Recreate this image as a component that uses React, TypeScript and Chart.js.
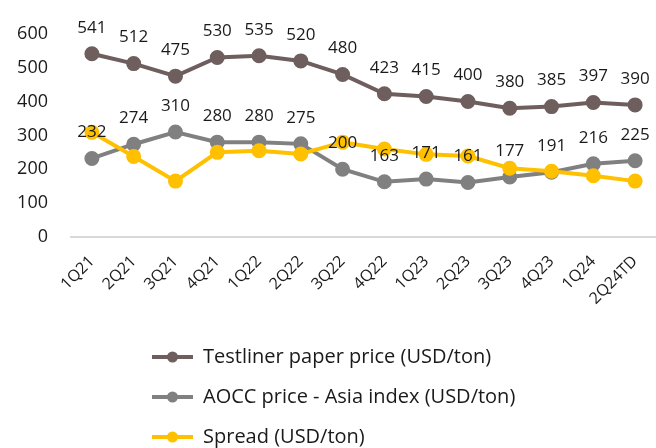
import React, { useEffect, useRef } from "react";
import { Chart, registerables } from "chart.js";

Chart.register(...registerables);

const categories = ["1Q21", "2Q21", "3Q21", "4Q21", "1Q22", "2Q22", "3Q22", "4Q22", "1Q23", "2Q23", "3Q23", "4Q23", "1Q24", "2Q24TD"];
const testlinerPrice = [541, 512, 475, 530, 535, 520, 480, 423, 415, 400, 380, 385, 397, 390];
const aoccPrice = [232, 274, 310, 280, 280, 275, 200, 163, 171, 161, 177, 191, 216, 225];
const spread = [309, 238, 165, 250, 255, 245, 280, 260, 244, 239, 203, 194, 181, 165];
const yTicks = [0, 100, 200, 300, 400, 500, 600];
const seriesNames = ["Testliner paper price (USD/ton)", "AOCC price - Asia index (USD/ton)", "Spread (USD/ton)"];
const seriesColors = ["#6e5e5d", "#808080", "#ffc000"];
const labelledSeries = [0, 1];

const FONT = "'Open Sans', sans-serif";

const labelPlugin = {
  id: "pointLabels",
  afterDatasetsDraw(chart: any) {
    const ctx = chart.ctx;
    ctx.save();
    ctx.font = `17px ${FONT}`;
    ctx.fillStyle = "#1a1a1a";
    ctx.textAlign = "center";
    ctx.textBaseline = "middle";
    labelledSeries.forEach((di) => {
      const meta = chart.getDatasetMeta(di);
      const data = chart.data.datasets[di].data;
      meta.data.forEach((pt: any, i: number) => {
        ctx.fillText(String(data[i]), pt.x, pt.y - 26);
      });
    });
    ctx.restore();
  },
};

const legendPlugin = {
  id: "customLegend",
  afterDraw(chart: any) {
    const ctx = chart.ctx;
    ctx.save();
    const ys = [357, 397, 437];
    seriesNames.forEach((name, i) => {
      const y = ys[i];
      ctx.strokeStyle = seriesColors[i];
      ctx.lineWidth = 4;
      ctx.beginPath();
      ctx.moveTo(152, y);
      ctx.lineTo(193, y);
      ctx.stroke();
      ctx.fillStyle = seriesColors[i];
      ctx.beginPath();
      ctx.arc(172.5, y, 5.5, 0, Math.PI * 2);
      ctx.fill();
      ctx.font = `20px ${FONT}`;
      ctx.fillStyle = "#1a1a1a";
      ctx.textAlign = "left";
      ctx.textBaseline = "middle";
      ctx.fillText(name, 203, y);
    });
    ctx.restore();
  },
};

export default function App() {
  const ref = useRef<HTMLCanvasElement | null>(null);
  useEffect(() => {
    if (!ref.current) return;
    const values = [testlinerPrice, aoccPrice, spread];
    const chart = new Chart(ref.current, {
      type: "line",
      data: {
        labels: categories,
        datasets: values.map((d, i) => ({
          label: seriesNames[i],
          data: d,
          borderColor: seriesColors[i],
          backgroundColor: seriesColors[i],
          pointBackgroundColor: seriesColors[i],
          pointBorderColor: seriesColors[i],
          borderWidth: 4,
          pointRadius: 5.5,
          pointHoverRadius: 5.5,
          tension: 0,
          clip: false,
          order: 3 - i,
        })),
      },
      options: {
        animation: false,
        responsive: false,
        maintainAspectRatio: false,
        layout: { autoPadding: false, padding: { top: 32, bottom: 111, left: 0, right: 0 } },
        plugins: {
          legend: { display: false },
          tooltip: { enabled: false },
        },
        scales: {
          x: {
            offset: true,
            grid: { display: false, drawTicks: false },
            border: { display: true, color: "#d9d9d9", width: 2 },
            ticks: {
              minRotation: 45,
              maxRotation: 45,
              autoSkip: false,
              padding: 15,
              color: "#1a1a1a",
              font: { family: FONT, size: 16 },
            },
            afterFit(scale: any) {
              scale.height = 100;
              scale.paddingRight = 0;
              scale.paddingLeft = 0;
            },
          },
          y: {
            min: 0,
            max: 600,
            afterBuildTicks(scale: any) {
              scale.ticks = yTicks.map((v) => ({ value: v }));
            },
            grid: { display: false, drawTicks: false },
            border: { display: false },
            ticks: {
              padding: 23,
              color: "#1a1a1a",
              font: { family: FONT, size: 18 },
            },
            afterFit(scale: any) {
              scale.width = 71;
            },
          },
        },
      },
      plugins: [labelPlugin, legendPlugin],
    });
    return () => chart.destroy();
  }, []);
  return (
    <div style={{ position: "fixed", left: 0, top: 0, width: 656, height: 448 }}>
      <canvas ref={ref} width={656} height={448} style={{ width: 656, height: 448, display: "block" }} />
    </div>
  );
}
